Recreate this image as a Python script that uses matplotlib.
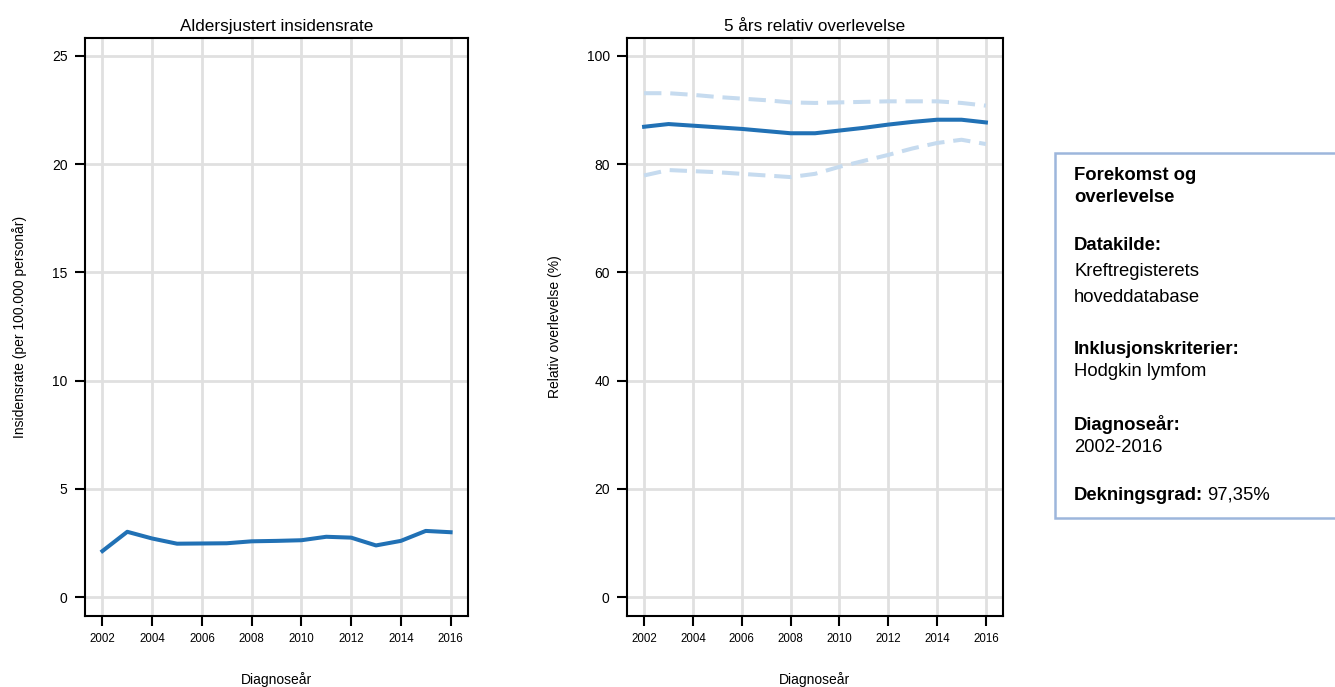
import matplotlib
matplotlib.use("Agg")
import matplotlib.pyplot as plt
from matplotlib.patches import Rectangle

plt.rcParams['font.family'] = ['Liberation Sans', 'DejaVu Sans']

# data
years = list(range(2002, 2017))
incidence = [2.13, 3.02, 2.71, 2.47, 2.48, 2.49, 2.58, 2.60, 2.63, 2.79, 2.75, 2.39, 2.60, 3.06, 3.00]
survival = [86.9, 87.4, 87.1, 86.8, 86.5, 86.1, 85.7, 85.7, 86.2, 86.7, 87.3, 87.8, 88.2, 88.2, 87.7]
surv_upper = [93.1, 93.1, 92.8, 92.4, 92.1, 91.8, 91.4, 91.3, 91.4, 91.5, 91.6, 91.6, 91.6, 91.3, 90.8]
surv_lower = [77.9, 78.9, 78.7, 78.5, 78.2, 77.9, 77.6, 78.2, 79.5, 80.6, 81.7, 82.9, 83.9, 84.5, 83.7]
x_ticks = list(range(2002, 2017, 2))

dark_blue = "#2171b5"
light_blue = "#c6dbef"
grid_col = "#e0e0e0"

W, H = 1335, 687
fig = plt.figure(figsize=(W / 100, H / 100), dpi=100)


def px_box(x0, y0, x1, y1):
    return [x0 / W, 1 - y1 / H, (x1 - x0) / W, (y1 - y0) / H]


def style_axes(ax, yticks, ylim, title, ylabel):
    ax.set_xlim(2001.3, 2016.7)
    ax.set_ylim(*ylim)
    ax.set_xticks(x_ticks)
    ax.set_yticks(yticks)
    ax.grid(True, color=grid_col, linewidth=2)
    ax.set_axisbelow(True)
    for s in ax.spines.values():
        s.set_linewidth(1.5)
        s.set_color("black")
    ax.tick_params(axis="both", direction="out", length=7.5, width=1.5)
    ax.tick_params(axis="x", labelsize=8.3, pad=5)
    ax.tick_params(axis="y", labelsize=10, pad=5)
    ax.set_title(title, fontsize=12.3, pad=5)
    ax.set_xlabel("Diagnoseår", fontsize=10, labelpad=19)
    ax.set_ylabel(ylabel, fontsize=10, labelpad=18)


ax1 = fig.add_axes(px_box(85, 38, 468, 616))
ax1.plot(years, incidence, color=dark_blue, linewidth=2.9)
style_axes(ax1, [0, 5, 10, 15, 20, 25], (-0.87, 25.83),
           "Aldersjustert insidensrate", "Insidensrate (per 100.000 personår)")

ax2 = fig.add_axes(px_box(627, 38, 1003, 616))
ax2.plot(years, surv_upper, color=light_blue, linewidth=2.9, linestyle=(0, (4.3, 2.2)))
ax2.plot(years, surv_lower, color=light_blue, linewidth=2.9, linestyle=(0, (4.3, 2.2)))
ax2.plot(years, survival, color=dark_blue, linewidth=2.9)
style_axes(ax2, [0, 20, 40, 60, 80, 100], (-3.5, 103.3),
           "5 års relativ overlevelse", "Relativ overlevelse (%)")

# info box on the right, running off the figure edge
box = Rectangle((1055 / W, 1 - 518 / H), 300 / W, (518 - 153) / H,
                transform=fig.transFigure, facecolor="white",
                edgecolor="#9db6dc", linewidth=1.8, clip_on=False)
fig.patches.append(box)

tx = 1074 / W
fs = 13.3
lines = [
    ("Forekomst og", 175, "bold"),
    ("overlevelse", 198, "bold"),
    ("Datakilde:", 246, "bold"),
    ("Kreftregisterets", 272, "normal"),
    ("hoveddatabase", 297, "normal"),
    ("Inklusjonskriterier:", 349, "bold"),
    ("Hodgkin lymfom", 372, "normal"),
    ("Diagnoseår:", 424, "bold"),
    ("2002-2016", 447, "normal"),
]
for txt, ypx, wt in lines:
    fig.text(tx, 1 - ypx / H, txt, fontsize=fs, fontweight=wt, va="center", ha="left")

lab = fig.text(tx, 1 - 495 / H, "Dekningsgrad:", fontsize=fs, fontweight="bold",
               va="center", ha="left")
fig.canvas.draw()
bb = lab.get_window_extent(fig.canvas.get_renderer())
fig.text(bb.x1 / W + 4 / W, 1 - 495 / H, "97,35%", fontsize=fs, va="center", ha="left")

fig.savefig("out.png", dpi=100)
